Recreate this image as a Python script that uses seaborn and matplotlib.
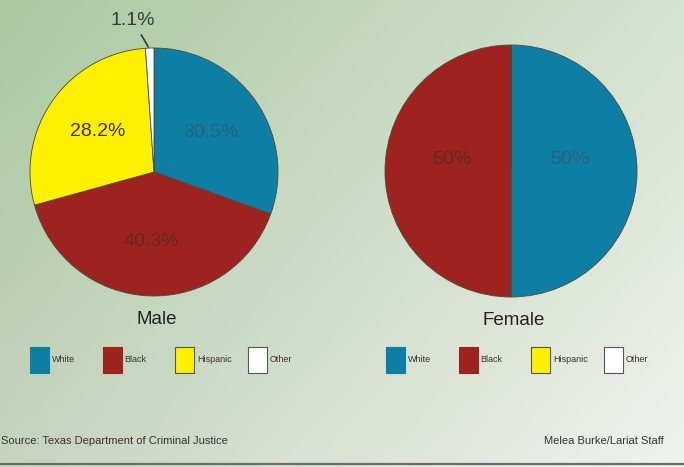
import numpy as np
import matplotlib
matplotlib.use("Agg")
import matplotlib.pyplot as plt
import seaborn as sns
from matplotlib.patches import Rectangle
from matplotlib.lines import Line2D

sns.set_style("white")
plt.rcParams['font.family'] = ['Liberation Sans', 'DejaVu Sans']

# ---- data ----
categories = ["White", "Black", "Hispanic", "Other"]
male_values = [30.5, 40.2, 28.2, 1.1]
male_labels = ["30.5%", "40.3%", "28.2%", "1.1%"]
female_values = [50.0, 50.0, 0.0, 0.0]
female_labels = ["50%", "50%", "", ""]
group_titles = ["Male", "Female"]
palette = sns.color_palette(["#0d7fa5", "#9e231f", "#fff000", "#ffffff"])
label_colors = ["#2d5f7c", "#5f2a24", "#333322", "#333333"]
source_text = "Source: Texas Department of Criminal Justice"
credit_text = "Melea Burke/Lariat Staff"

W, H = 684, 467
fig = plt.figure(figsize=(W / 100, H / 100), dpi=100)

# background gradient
bg = fig.add_axes([0, 0, 1, 1])
tl = np.array([169, 201, 160]) / 255
tr = np.array([213, 226, 207]) / 255
bl = np.array([198, 212, 190]) / 255
br = np.array([240, 242, 238]) / 255
xs = np.linspace(0, 1, 200)[None, :, None]
ys = np.linspace(0, 1, 140)[:, None, None]
img = (1 - ys) * ((1 - xs) * tl + xs * tr) + ys * ((1 - xs) * bl + xs * br)
bg.imshow(img, aspect='auto', extent=[0, W, H, 0])
bg.set_xlim(0, W)
bg.set_ylim(H, 0)
bg.axis('off')
bg.add_line(Line2D([0, W], [464, 464], color="#6b6b6b", lw=1.6))


def draw_pie(rect, values, labels, title, yoff):
    ax = fig.add_axes(rect)
    vals = [v if v > 0 else 0.0 for v in values]
    ax.pie(vals, colors=palette, startangle=90, counterclock=False,
           wedgeprops=dict(edgecolor="#4a4a3a", linewidth=0.6))
    total = sum(vals)
    ang = 90.0
    for v, lab, lc in zip(vals, labels, label_colors):
        if v <= 0 or not lab:
            ang -= 360 * v / total
            continue
        mid = ang - 180 * v / total
        ang -= 360 * v / total
        th = np.deg2rad(mid)
        if v / total < 0.05:
            ax.annotate(lab, xy=(0.99 * np.cos(th), 0.99 * np.sin(th)),
                        xytext=(-0.17, 1.22), ha='center', va='center',
                        fontsize=14, color="#3a3a3a",
                        arrowprops=dict(arrowstyle='-', color="#3a3a3a", lw=1.2),
                        annotation_clip=False)
        else:
            d = 0.56 if v < 45 else 0.47
            ax.text(d * np.cos(th), d * np.sin(th) + yoff, lab, ha='center', va='center',
                    fontsize=14, color=lc)
    ax.set_xlim(-1.0, 1.0)
    ax.set_ylim(-1.0, 1.0)
    ax.set_aspect('equal')
    ax.text(0.02, -1.19, title, ha='center', va='center', fontsize=13.5, color="#222222")
    return ax


draw_pie([30 / W, 1 - 296 / H, 248 / W, 248 / H], male_values, male_labels, group_titles[0], 0.0)
draw_pie([385 / W, 1 - 297 / H, 252 / W, 252 / H], female_values, female_labels, group_titles[1], 0.09)

# legends
for x0 in (30, 386):
    for i, (cat, col) in enumerate(zip(categories, palette)):
        sx = x0 + i * 72.5
        bg.add_patch(Rectangle((sx, 347), 19, 26, facecolor=col,
                               edgecolor="#555555" if i >= 2 else col, lw=0.8))
        bg.text(sx + 22, 360, cat, fontsize=6.5, color="#333333", va='center', ha='left')

bg.text(1, 441, source_text, fontsize=8, color="#333333", va='center', ha='left')
bg.text(664, 441, credit_text, fontsize=8, color="#333333", va='center', ha='right')

fig.savefig("out.png", dpi=100)
